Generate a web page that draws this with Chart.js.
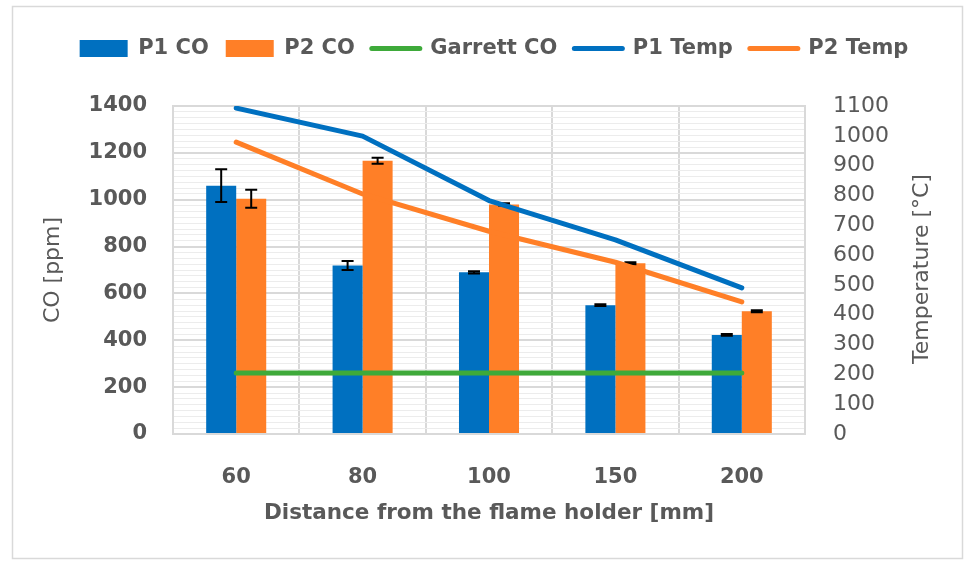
<!DOCTYPE html>
<html><head><meta charset="utf-8">
<script src="https://cdn.jsdelivr.net/npm/chart.js@4"></script>
<style>html,body{margin:0;padding:0;background:#fff}#wrap{width:966px;height:561px;position:relative}</style>
</head><body><div id="wrap"><canvas id="c" width="966" height="561"></canvas></div>
<script>
// ---- data ----
const categories = ['60', '80', '100', '150', '200'];
const p1CO = [1060, 719, 690, 550, 423];
const p1COErr = [70, 19, 5, 4, 4];
const p2CO = [1004, 1166, 980, 729, 524];
const p2COErr = [38, 13, 5, 4, 4];
const garrettCO = [260, 260, 260, 260, 260];
const p1Temp = [1093, 999, 783, 651, 490];
const p2Temp = [979, 805, 680, 576, 443];
const coTicks = [0, 200, 400, 600, 800, 1000, 1200, 1400];
const tempTicks = [0, 100, 200, 300, 400, 500, 600, 700, 800, 900, 1000, 1100];

const TXT = '#595959';
const BLUE = '#0070C0';
const ORANGE = '#FF7F27';
const GREEN = '#3EAA3A';
const FONT = 'DejaVu Sans';

Chart.defaults.font.family = FONT;
Chart.defaults.font.weight = 'bold';
Chart.defaults.font.size = 21;
Chart.defaults.color = TXT;

const errMap = {0: p1COErr, 1: p2COErr};

const errorBars = {
  id: 'errorBars',
  afterDatasetDraw(chart, args) {
    const errs = errMap[args.index];
    if (!errs) return;
    const ctx = chart.ctx, y = chart.scales.y;
    const vals = chart.data.datasets[args.index].data;
    ctx.save();
    ctx.strokeStyle = '#000';
    ctx.lineWidth = 2;
    args.meta.data.forEach((el, i) => {
      const x = el.x;
      const yt = y.getPixelForValue(vals[i] + errs[i]);
      const yb = y.getPixelForValue(vals[i] - errs[i]);
      ctx.beginPath();
      ctx.moveTo(x, yt); ctx.lineTo(x, yb);
      ctx.moveTo(x - 6, yt); ctx.lineTo(x + 6, yt);
      ctx.moveTo(x - 6, yb); ctx.lineTo(x + 6, yb);
      ctx.stroke();
    });
    ctx.restore();
  }
};

const frame = {
  id: 'frame',
  beforeDraw(chart) {
    const ctx = chart.ctx;
    ctx.save();
    ctx.fillStyle = '#fff';
    ctx.fillRect(0, 0, chart.width, chart.height);
    ctx.strokeStyle = '#d9d9d9';
    ctx.lineWidth = 1.5;
    ctx.strokeRect(12.5, 6.5, 950, 552);
    ctx.restore();
  },
  afterDraw(chart) {
    const ctx = chart.ctx;
    ctx.save();
    ctx.fillStyle = TXT;
    ctx.font = 'normal 22px "' + FONT + '"';
    ctx.textAlign = 'center';
    ctx.textBaseline = 'middle';
    ctx.translate(922, 269);
    ctx.rotate(-Math.PI / 2);
    ctx.fillText('Temperature [°C]', 0, 0);
    ctx.restore();
  }
};

const legendSpace = {
  id: 'legendSpace',
  beforeInit(chart) {
    const lg = chart.legend;
    const origFit = lg.fit;
    lg.fit = function () {
      origFit.call(this);
      this.height += 37;
    };
    const origDraw = lg.draw;
    lg.draw = function () {
      const ctx = this.ctx;
      ctx.save();
      ctx.translate(11, 0);
      origDraw.apply(this, arguments);
      ctx.restore();
    };
  }
};

const plainTick = v => String(v);

new Chart(document.getElementById('c'), {
  data: {
    labels: categories,
    datasets: [
      {type: 'bar', label: 'P1 CO', data: p1CO, backgroundColor: BLUE, yAxisID: 'y', order: 2},
      {type: 'bar', label: 'P2 CO', data: p2CO, backgroundColor: ORANGE, yAxisID: 'y', order: 2},
      {type: 'line', label: 'Garrett CO', data: garrettCO, borderColor: GREEN, backgroundColor: GREEN, borderWidth: 5, pointRadius: 0, borderCapStyle: 'round', yAxisID: 'y', order: 1},
      {type: 'line', label: 'P1 Temp', data: p1Temp, borderColor: BLUE, backgroundColor: BLUE, borderWidth: 5, pointRadius: 0, borderCapStyle: 'round', borderJoinStyle: 'round', yAxisID: 'y1', order: 1},
      {type: 'line', label: 'P2 Temp', data: p2Temp, borderColor: ORANGE, backgroundColor: ORANGE, borderWidth: 5, pointRadius: 0, borderCapStyle: 'round', borderJoinStyle: 'round', yAxisID: 'y1', order: 1}
    ]
  },
  options: {
    responsive: false,
    animation: false,
    devicePixelRatio: 1,
    layout: {padding: {top: 21, left: 0, right: 0, bottom: 0}},
    datasets: {bar: {categoryPercentage: 0.475, barPercentage: 1}},
    plugins: {
      tooltip: {enabled: false},
      legend: {
        position: 'top',
        labels: {
          usePointStyle: true,
          pointStyleWidth: 48,
          boxHeight: 17,
          padding: 17,
          color: TXT,
          font: {size: 21, weight: 'bold', family: FONT},
          generateLabels(chart) {
            return chart.data.datasets.map((ds, i) => ({
              text: ds.label,
              fillStyle: ds.type === 'line' ? ds.borderColor : ds.backgroundColor,
              strokeStyle: ds.type === 'line' ? ds.borderColor : ds.backgroundColor,
              lineWidth: ds.type === 'line' ? 5 : 0,
              lineCap: 'round',
              pointStyle: ds.type === 'line' ? 'line' : 'rect',
              fontColor: TXT,
              hidden: false,
              datasetIndex: i
            }));
          }
        }
      }
    },
    scales: {
      x: {
        grid: {color: '#d9d9d9', lineWidth: 2, drawTicks: false, offset: true},
        border: {color: '#d9d9d9', width: 2},
        ticks: {padding: 31, color: TXT, font: {size: 21, weight: 'bold'}},
        title: {display: true, text: 'Distance from the flame holder [mm]', color: TXT, font: {size: 21.5, weight: 'bold'}, padding: {top: 0, bottom: 35}},
        afterFit(s) { s.height = 127; }
      },
      yMinor: {
        type: 'linear', position: 'left', min: 0, max: 1400, z: -1,
        grid: {color: '#ececec', lineWidth: 1, drawTicks: false},
        border: {display: false},
        ticks: {display: false, stepSize: 25, maxTicksLimit: 100},
        afterFit(s) { s.width = 0; }
      },
      y: {
        type: 'linear', position: 'left', min: coTicks[0], max: coTicks[coTicks.length - 1],
        grid: {color: '#d9d9d9', lineWidth: 2, drawTicks: false},
        border: {color: '#d9d9d9', width: 2},
        ticks: {stepSize: coTicks[1] - coTicks[0], padding: 26, color: TXT, font: {size: 21, weight: 'bold'}, callback: plainTick, autoSkip: false},
        title: {display: true, text: 'CO [ppm]', color: TXT, font: {size: 22, weight: 'normal'}, padding: {top: 40, bottom: 0}},
        afterFit(s) { s.width = 173; }
      },
      y1: {
        type: 'linear', position: 'right', min: tempTicks[0], max: tempTicks[tempTicks.length - 1],
        grid: {drawOnChartArea: false, drawTicks: false},
        border: {color: '#d9d9d9', width: 2},
        ticks: {stepSize: tempTicks[1] - tempTicks[0], padding: 28, color: TXT, font: {size: 22, weight: 'normal'}, callback: plainTick, autoSkip: false},
        afterFit(s) { s.width = 161; }
      }
    }
  },
  plugins: [frame, legendSpace, errorBars]
});
</script>
</body></html>
